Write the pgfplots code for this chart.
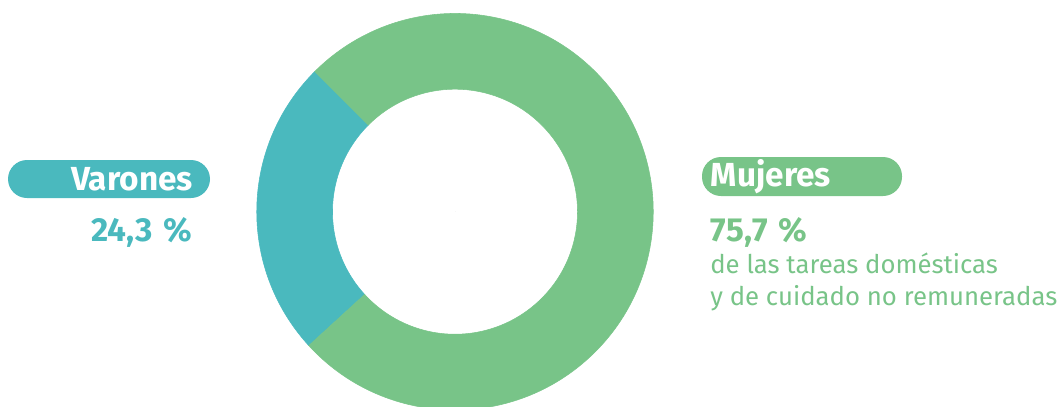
\documentclass[border=0pt]{standalone}
\usepackage{fontspec}
\setmainfont{Fira Sans}
\usepackage{pgfplots}
\usepackage{pgfplotstable}
\pgfplotsset{compat=1.18}

\definecolor{colVarones}{RGB}{74,185,190}
\definecolor{colMujeres}{RGB}{120,196,136}

% slice data: start (in %) and share (in %), centre in pixel units
\pgfplotstableread{
label   from  value  x    y
Varones 0     24.3   455  211.7
Mujeres 24.3  75.7   455  211.7
}\donut

\pgfplotsset{
  ring/.style={
    scatter, only marks, mark=*, mark size=0pt,
    visualization depends on={\thisrow{from} \as \from},
    visualization depends on={\thisrow{value} \as \val},
    scatter/@pre marker code/.code={
      \pgfmathsetmacro\a{135+3.6*\from}
      \pgfmathsetmacro\b{\a+3.6*\val}
      \fill[#1] (\a:148.7pt) arc[start angle=\a, end angle=\b, radius=148.7pt]
        -- (\b:91.9pt) arc[start angle=\b, end angle=\a, radius=91.9pt] -- cycle;
    },
    scatter/@post marker code/.code={},
  },
}

\newcommand\labbig{\fontsize{25pt}{30pt}\selectfont\bfseries}
\newcommand\labsmall{\fontsize{19.3pt}{23pt}\selectfont}

\begin{document}
\begin{tikzpicture}
\useasboundingbox (0,0) rectangle (798pt,305.25pt);
\begin{axis}[
    at={(0,0)}, anchor=south west,
    scale only axis,
    width=798pt, height=305.25pt,
    xmin=0, xmax=1064, ymin=0, ymax=407,
    y dir=reverse,
    hide axis,
    clip=false,
]
  % donut: each row is one ring sector, drawn as the marker at the centre
  \addplot[ring=colVarones] table[x=x, y=y, skip coords between index={1}{2}] {\donut};
  \addplot[ring=colMujeres] table[x=x, y=y, skip coords between index={0}{1}] {\donut};

  % labels
  \fill[colVarones, rounded corners=14.25pt] (axis cs:8,160) rectangle (axis cs:210,198);
  \node[anchor=base east, inner sep=0pt, text=white, font=\labbig]
    at (axis cs:193,190) {Varones};
  \node[anchor=base east, inner sep=0pt, text=colVarones, font=\labbig]
    at (axis cs:192,241.7) {24,3\hspace{0.32em}\%};

  \fill[colMujeres, rounded corners=14.25pt] (axis cs:702,157) rectangle (axis cs:902,196);
  \node[anchor=base west, inner sep=0pt, text=white, font=\labbig]
    at (axis cs:710.7,186.7) {Mujeres};
  \node[anchor=base west, inner sep=0pt, text=colMujeres, font=\labbig]
    at (axis cs:710.7,241.7) {75,7\hspace{0.32em}\%};
  \node[anchor=base west, inner sep=0pt, text=colMujeres, font=\labsmall]
    at (axis cs:710,273.3) {de las tareas domésticas};
  \node[anchor=base west, inner sep=0pt, text=colMujeres, font=\labsmall]
    at (axis cs:710,305) {y de cuidado no remuneradas};
\end{axis}
\end{tikzpicture}
\end{document}
